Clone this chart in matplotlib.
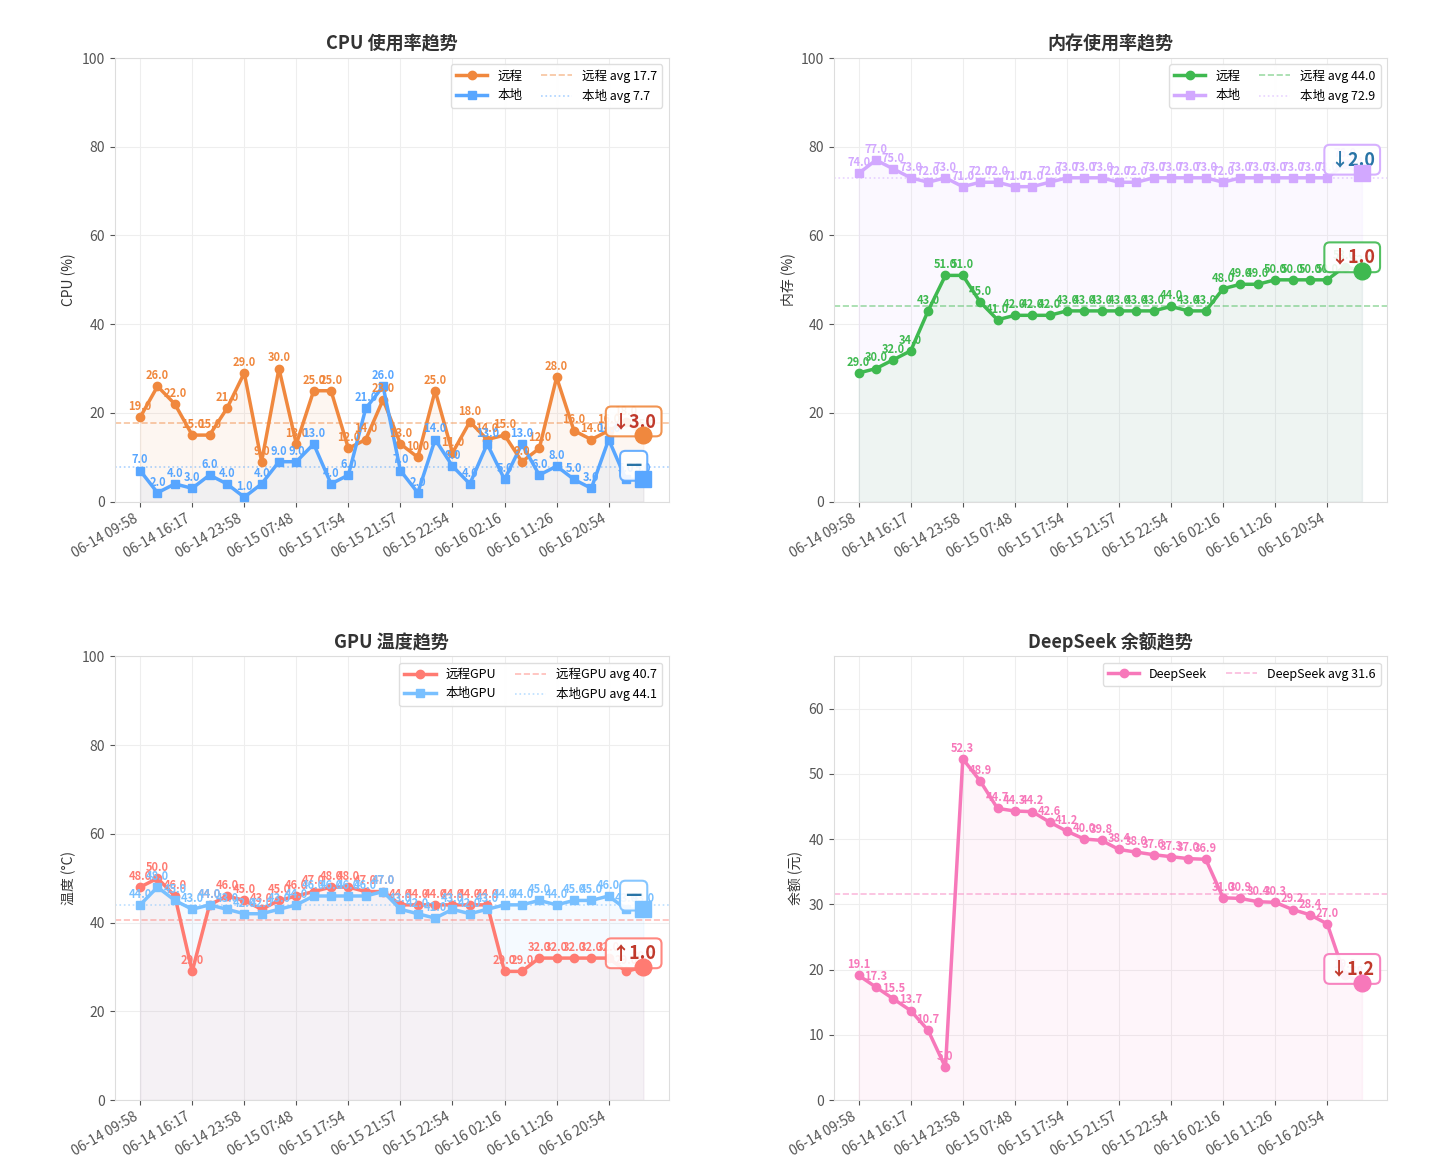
import matplotlib
matplotlib.use("Agg")
import matplotlib.pyplot as plt
import numpy as np

plt.rcParams['font.family'] = ['Noto Sans CJK SC', 'DejaVu Sans']
plt.rcParams['axes.unicode_minus'] = False

times = ["06-14 09:58", "06-14 16:17", "06-14 23:58", "06-15 07:48", "06-15 17:54",
         "06-15 21:57", "06-15 22:54", "06-16 02:16", "06-16 11:26", "06-16 20:54"]

cpu_remote = [19, 26, 22, 15, 15, 21, 29, 9, 30, 13, 25, 25, 12, 14, 23,
              13, 10, 25, 11, 18, 14, 15, 9, 12, 28, 16, 14, 16, 18, 15]
cpu_local = [7, 2, 4, 3, 6, 4, 1, 4, 9, 9, 13, 4, 6, 21, 26,
             7, 2, 14, 8, 4, 13, 5, 13, 6, 8, 5, 3, 14, 5, 5]

mem_remote = [29, 30, 32, 34, 43, 51, 51, 45, 41, 42, 42, 42, 43, 43, 43,
              43, 43, 43, 44, 43, 43, 48, 49, 49, 50, 50, 50, 50, 53, 52]
mem_local = [74, 77, 75, 73, 72, 73, 71, 72, 72, 71, 71, 72, 73, 73, 73,
             72, 72, 73, 73, 73, 73, 72, 73, 73, 73, 73, 73, 73, 76, 74]

gpu_remote = [48, 50, 46, 29, 44, 46, 45, 43, 45, 46, 47, 48, 48, 47, 47,
              44, 44, 44, 44, 44, 44, 29, 29, 32, 32, 32, 32, 32, 29, 30]
gpu_local = [44, 48, 45, 43, 44, 43, 42, 42, 43, 44, 46, 46, 46, 46, 47,
             43, 42, 41, 43, 42, 43, 44, 44, 45, 44, 45, 45, 46, 43, 43]

deepseek = [19.1, 17.3, 15.5, 13.7, 10.7, 5.0, 52.3, 48.9, 44.7, 44.3, 44.2, 42.6, 41.2, 40.0, 39.8,
            38.4, 38.0, 37.6, 37.3, 37.0, 36.9, 31.0, 30.9, 30.4, 30.3, 29.2, 28.4, 27.0, 19.2, 18.0]

# tick every 3 samples
tick_idx = list(range(0, 30, 3))


def draw_series(ax, vals, name, color, marker, badge_color):
    x = np.arange(len(vals))
    ax.plot(x, vals, color=color, marker=marker, lw=2.5, ms=6, label=name, zorder=3)
    ax.fill_between(x, 0, vals, color=color, alpha=0.07, zorder=1)
    for xi, v in zip(x, vals):
        ax.annotate("%.1f" % v, (xi, v), xytext=(0, 3), textcoords="offset points",
                    ha="center", va="bottom", fontsize=8, fontweight="bold",
                    color=color, zorder=5)
    diff = vals[-1] - vals[-2]
    if abs(diff) < 1e-9:
        txt = "—"
    elif diff > 0:
        txt = "↑%.1f" % abs(diff)
    else:
        txt = "↓%.1f" % abs(diff)
    ax.annotate(txt, (x[-1], vals[-1]), xytext=(-7, 3), textcoords="offset points",
                ha="center", va="bottom", fontsize=13, fontweight="bold", color=badge_color,
                bbox=dict(boxstyle="round,pad=0.3", fc="white", ec=color, lw=1.5, alpha=0.9),
                zorder=6)
    # current value drawn on top of the badge
    ax.plot(x[-1], vals[-1], marker=marker, color=color, ms=12, zorder=7)
    return np.mean(vals)


def style_ax(ax, title, ylabel):
    ax.set_title(title, fontsize=13, fontweight="bold", color="#333333")
    ax.set_ylabel(ylabel, fontsize=10, color="#333333")
    ax.set_xticks(tick_idx)
    ax.set_xticklabels(times, rotation=30, ha="right", fontsize=10, color="#555555")
    ax.tick_params(axis="y", labelsize=10, labelcolor="#555555")
    ax.tick_params(colors="#555555")
    ax.grid(True, color="#eeeeee", lw=0.8, zorder=0)
    ax.set_axisbelow(True)
    for s in ax.spines.values():
        s.set_color("#dddddd")
    ax.legend(loc="upper right", ncol=2, fontsize=9, frameon=True, edgecolor="#dddddd",
              framealpha=0.95, handlelength=2.5, columnspacing=1.5)


fig, axes = plt.subplots(2, 2, figsize=(14.3, 11.7), dpi=100)
fig.subplots_adjust(left=0.0804, right=0.97, top=0.9504, bottom=0.0598, wspace=0.298, hspace=0.349)

red_badge = "#c0392b"
blue_badge = "#2874a6"

# CPU
ax = axes[0, 0]
a1 = draw_series(ax, cpu_remote, "远程", "#f0883e", "o", red_badge)
a2 = draw_series(ax, cpu_local, "本地", "#58a6ff", "s", blue_badge)
ax.axhline(a1, color="#f0883e", ls="--", lw=1.2, alpha=0.5, label="远程 avg %.1f" % a1)
ax.axhline(a2, color="#58a6ff", ls=":", lw=1.2, alpha=0.5, label="本地 avg %.1f" % a2)
ax.set_ylim(0, 100)
style_ax(ax, "CPU 使用率趋势", "CPU (%)")

# memory
ax = axes[0, 1]
a1 = draw_series(ax, mem_remote, "远程", "#3fb950", "o", red_badge)
a2 = draw_series(ax, mem_local, "本地", "#d2a8ff", "s", blue_badge)
ax.axhline(a1, color="#3fb950", ls="--", lw=1.2, alpha=0.5, label="远程 avg %.1f" % a1)
ax.axhline(a2, color="#d2a8ff", ls=":", lw=1.2, alpha=0.5, label="本地 avg %.1f" % a2)
ax.set_ylim(0, 100)
style_ax(ax, "内存使用率趋势", "内存 (%)")

# GPU temp
ax = axes[1, 0]
a1 = draw_series(ax, gpu_remote, "远程GPU", "#ff7b72", "o", red_badge)
a2 = draw_series(ax, gpu_local, "本地GPU", "#79c0ff", "s", blue_badge)
ax.axhline(a1, color="#ff7b72", ls="--", lw=1.2, alpha=0.5, label="远程GPU avg %.1f" % a1)
ax.axhline(a2, color="#79c0ff", ls=":", lw=1.2, alpha=0.5, label="本地GPU avg %.1f" % a2)
ax.set_ylim(0, 100)
style_ax(ax, "GPU 温度趋势", "温度 (°C)")

# DeepSeek balance
ax = axes[1, 1]
a1 = draw_series(ax, deepseek, "DeepSeek", "#f778ba", "o", red_badge)
ax.axhline(a1, color="#f778ba", ls="--", lw=1.2, alpha=0.5, label="DeepSeek avg %.1f" % a1)
ax.set_ylim(0, max(deepseek) * 1.3)
style_ax(ax, "DeepSeek 余额趋势", "余额 (元)")

plt.savefig("out.png", dpi=100, facecolor="white")
